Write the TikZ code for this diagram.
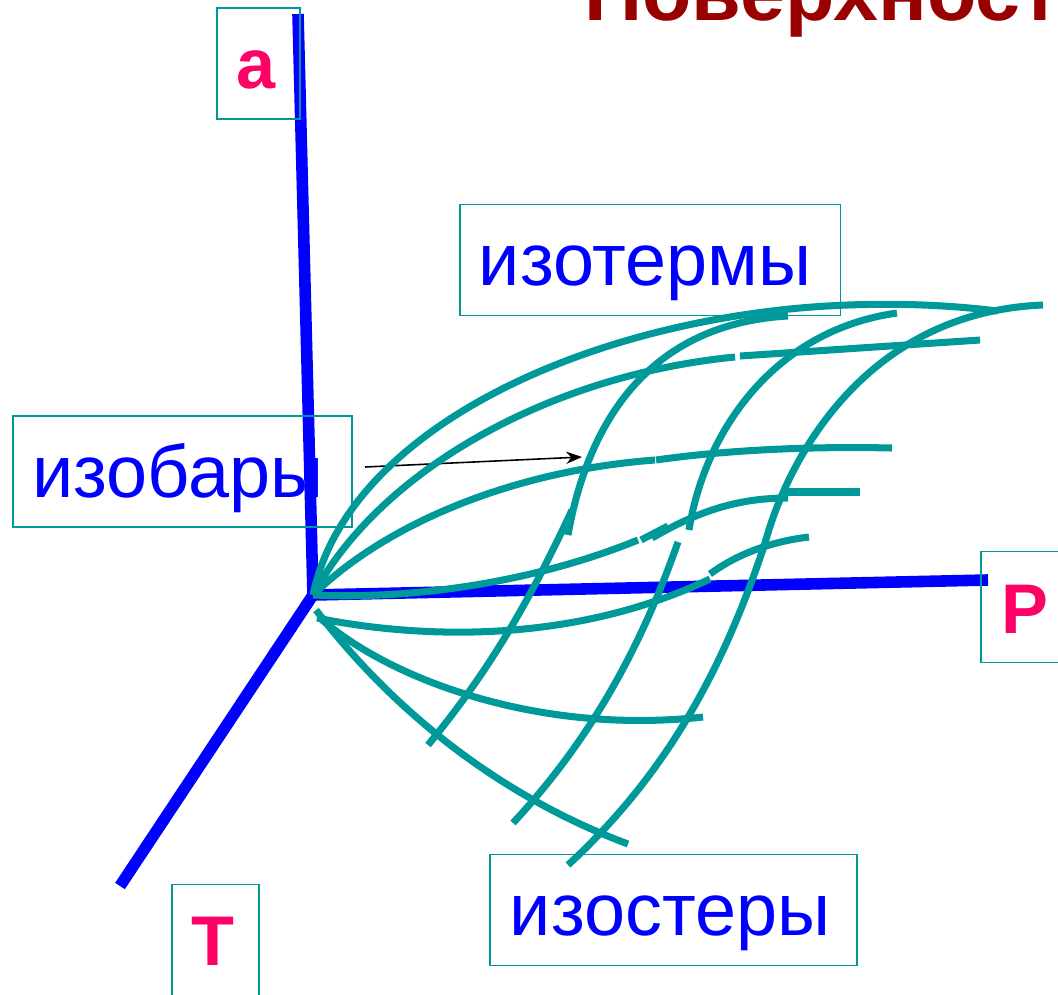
\documentclass[tikz,border=0pt]{standalone}
\usepackage{fontspec}
\setmainfont{Liberation Sans}
\usepackage{tikz}
\usetikzlibrary{arrows.meta}

\definecolor{tealline}{HTML}{009999}
\definecolor{axisblue}{HTML}{0000FF}
\definecolor{axispink}{HTML}{FF0066}
\definecolor{titlered}{HTML}{990000}

\tikzset{
    axisline/.style={line width=6.6pt, color=axisblue},
    curveline/.style={line width=4pt, color=tealline},
    labelbox/.style={draw=tealline, line width=1.1pt, inner sep=0pt},
    wordtext/.style={anchor=base, text=axisblue, font=\fontsize{42}{42}\selectfont},
    lettertext/.style={anchor=base, text=axispink, font=\fontsize{40}{40}\selectfont\bfseries}
}

\begin{document}
\begin{tikzpicture}[x=0.02cm, y=-0.02cm]

        \path[use as bounding box, clip] (0,0) rectangle (1058,994);

        \node[anchor=base west, text=titlered, font=\fontsize{46}{46}\selectfont\bfseries] (title) at (578,20) {Поверхност};

        % axes
        \coordinate (origin) at (313,595);
        \coordinate (aend) at (298,14);
        \coordinate (pend) at (988,580);
        \coordinate (tend) at (120,886);
        \draw[axisline] (aend) -- (origin);
        \draw[axisline] (origin) -- (pend);
        \draw[axisline] (origin) -- (tend);

        % boxes
        \node[labelbox, minimum width=1.66cm, minimum height=2.22cm] (aaxis) at (258.5,63.5) {};
        \node[lettertext] (alabel) at (256,88) {a};
        \node[labelbox, minimum width=1.74cm, minimum height=2.22cm] (taxis) at (215.5,940) {};
        \node[lettertext] (tlabel) at (213,965) {T};
        \node[labelbox, minimum width=2.2cm, minimum height=2.22cm] (paxis) at (1036,607) {};
        \node[lettertext] (plabel) at (1025,633) {P};
        \node[labelbox, minimum width=7.62cm, minimum height=2.22cm] (isotherm) at (650,260) {};
        \node[wordtext] (isothermtext) at (645,285) {изотермы};
        \node[labelbox, minimum width=6.78cm, minimum height=2.22cm] (isobar) at (182.5,471.5) {};
        \node[wordtext] (isobartext) at (178,497) {изобары};
        \node[labelbox, minimum width=7.34cm, minimum height=2.22cm] (isostere) at (673.5,910) {};
        \node[wordtext] (isosteretext) at (670,935) {изостеры};

        % arrow
        \coordinate (arrowstart) at (365,467);
        \coordinate (arrowend) at (582,457);
        \draw[-{Stealth[length=9pt, width=7pt]}, line width=0.9pt] (arrowstart) -- (arrowend);

        % isobars
        \draw[curveline] (origin) .. controls (345,440) and (560,330) .. (800,308)
            .. controls (880,301) and (950,305) .. (997,311);
        \draw[curveline] (origin) .. controls (380,470) and (550,375) .. (735,357);
        \draw[curveline] (740,356) -- (980,340);
        \draw[curveline] (origin) .. controls (390,520) and (520,470) .. (655,460);
        \draw[curveline] (656,460) .. controls (720,451) and (800,446) .. (892,448);
        \draw[curveline] (origin) .. controls (420,600) and (540,580) .. (638,540);
        \draw[curveline] (641,540) -- (668,526);
        \draw[curveline] (652,538) .. controls (700,510) and (740,498) .. (788,498);
        \draw[curveline] (785,492) -- (860,492);
        \draw[curveline] (317,618) .. controls (400,635) and (560,650) .. (710,579);
        \draw[curveline] (710,574) .. controls (740,552) and (775,541) .. (809,537);
        \draw[curveline] (320,618) .. controls (390,680) and (540,735) .. (703,717);
        \draw[curveline] (316,610) .. controls (400,720) and (510,800) .. (628,844);

        % isosteres
        \draw[curveline] (428,745) .. controls (490,670) and (530,600) .. (572,510);
        \draw[curveline] (568,535) .. controls (583,450) and (630,325) .. (788,316);
        \draw[curveline] (513,823) .. controls (590,740) and (640,650) .. (678,542);
        \draw[curveline] (689,530) .. controls (705,430) and (775,330) .. (897,313);
        \draw[curveline] (568,865) .. controls (660,780) and (720,680) .. (765,543)
            .. controls (790,452) and (870,312) .. (1043,305);

    \end{tikzpicture}
\end{document}
